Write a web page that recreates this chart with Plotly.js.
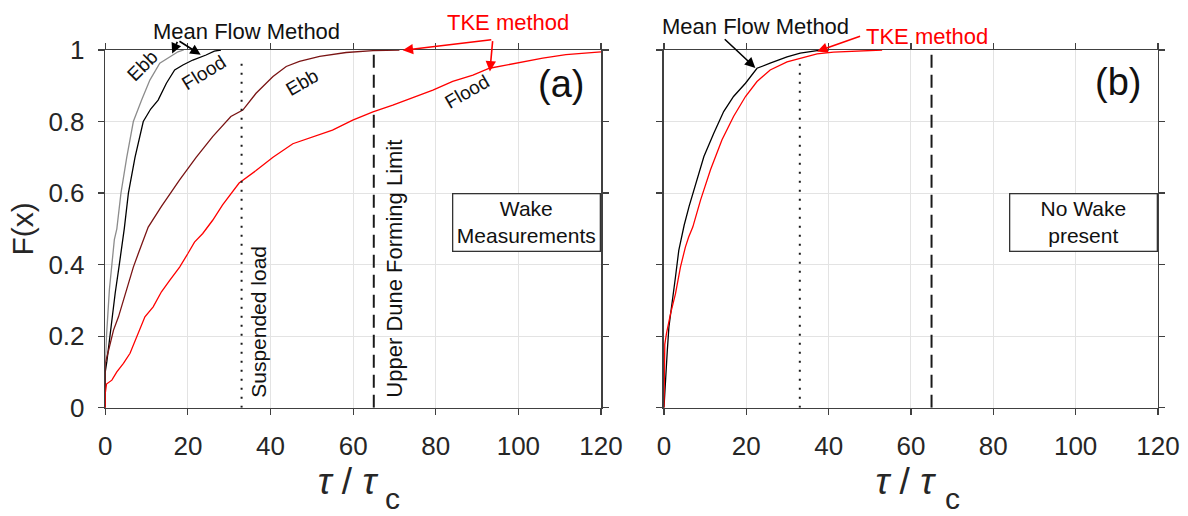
<!DOCTYPE html>
<html>
<head>
<meta charset="utf-8">
<script src="https://cdn.plot.ly/plotly-3.0.1.min.js"></script>
<style>
html,body{margin:0;padding:0;background:#fff;}
#chart{width:1188px;height:516px;}
</style>
</head>
<body>
<div id="chart"></div>
<script>
// ---------- Data ----------
// Panel (a): Wake measurements
const aMeanEbbX   = [0, 0, 0.3, 0.6, 1.0, 1.6, 2.2, 2.8, 3.8, 5.2, 6.8, 8.8, 10.8, 13.2, 15.6, 17.6, 19];
const aMeanEbbY   = [0, 0.12, 0.2, 0.26, 0.33, 0.40, 0.47, 0.50, 0.60, 0.70, 0.80, 0.86, 0.916, 0.963, 0.98, 0.995, 1.0];

const aMeanFloodX = [0, 0, 0.4, 1.0, 1.6, 2.4, 3.4, 4.0, 4.6, 5.6, 7.2, 9.2, 11, 12.8, 14.8, 16.8, 18.8, 21.2, 24.4, 26.4, 28];
const aMeanFloodY = [0, 0.10, 0.13, 0.19, 0.245, 0.32, 0.40, 0.45, 0.50, 0.60, 0.70, 0.80, 0.835, 0.86, 0.907, 0.944, 0.958, 0.972, 0.986, 0.997, 1.0];

const aTkeEbbX    = [0, 0, 0.8, 2, 3.2, 4.4, 5.6, 6.8, 8, 9.2, 10.4, 13.6, 18, 22, 26, 30.4, 33.3, 36.5, 40.6, 43.8, 47, 51.9, 58.3, 64.8, 71.2];
const aTkeEbbY    = [0, 0.124, 0.16, 0.217, 0.254, 0.30, 0.347, 0.393, 0.431, 0.468, 0.505, 0.563, 0.637, 0.70, 0.758, 0.814, 0.832, 0.879, 0.926, 0.954, 0.968, 0.982, 0.993, 0.998, 1.0];

const aTkeFloodX  = [0, 0, 0.3, 1.6, 2.8, 4.4, 6, 7.6, 8.8, 9.6, 11.6, 13.6, 15.6, 18, 20, 21.6, 23.6, 26, 28.4, 32.4, 36.5, 40.6, 45.4, 50.2, 55, 59.9, 64.8, 69.6, 75.2, 79.3, 84.1, 89, 93, 99.4, 105.9, 111.5, 119.6, 120];
const aTkeFloodY  = [0, 0.04, 0.066, 0.077, 0.10, 0.124, 0.152, 0.198, 0.235, 0.254, 0.282, 0.324, 0.356, 0.393, 0.431, 0.463, 0.487, 0.524, 0.567, 0.628, 0.663, 0.70, 0.738, 0.757, 0.776, 0.804, 0.827, 0.846, 0.87, 0.888, 0.912, 0.93, 0.949, 0.963, 0.977, 0.987, 0.994, 0.995];

// Panel (b): No wake present
const bMeanX = [0, 0.4, 0.8, 1.2, 2, 2.8, 3.6, 4.4, 4.9, 6.1, 7.7, 9.7, 12.1, 14.5, 16.9, 19.8, 22.6, 23.4, 25.8, 29.9, 33.1, 37.2, 40];
const bMeanY = [0, 0.102, 0.158, 0.226, 0.291, 0.366, 0.44, 0.486, 0.51, 0.563, 0.628, 0.702, 0.767, 0.828, 0.87, 0.907, 0.949, 0.953, 0.963, 0.981, 0.991, 0.998, 1.0];

const bTkeX  = [0, 0.1, 0.2, 0.6, 1.6, 2.8, 4, 5.2, 6, 7, 8.9, 11.3, 14.1, 16.9, 19.8, 22.6, 25.8, 29.9, 33.1, 37.2, 41.2, 46, 53];
const bTkeY  = [0, 0.12, 0.177, 0.207, 0.263, 0.319, 0.393, 0.449, 0.477, 0.505, 0.581, 0.665, 0.749, 0.814, 0.87, 0.912, 0.944, 0.967, 0.977, 0.989, 0.994, 0.997, 1.0];

// Reference thresholds (tau/tau_c)
const suspendedLoad = 33;
const upperDuneLimit = 65;

// Axis ticks
const xTicks = [0, 20, 40, 60, 80, 100, 120];
const yTicks = [0, 0.2, 0.4, 0.6, 0.8, 1];
const yTickText = ['0', '0.2', '0.4', '0.6', '0.8', '1'];

// ---------- Styling ----------
const FONT = 'Arial, "Liberation Sans", Helvetica, sans-serif';
const GRAY = '#8c8c8c', BLACK = '#000000', DARKRED = '#7a1414', RED = '#ff0000';

function line(x, y, color, xa, ya, w) {
  return {x: x, y: y, type: 'scatter', mode: 'lines', xaxis: xa, yaxis: ya,
          line: {color: color, width: w || 1.3}, hoverinfo: 'skip', showlegend: false};
}

const data = [
  line(aMeanEbbX, aMeanEbbY, GRAY, 'x', 'y'),
  line(aMeanFloodX, aMeanFloodY, BLACK, 'x', 'y'),
  line(aTkeEbbX, aTkeEbbY, DARKRED, 'x', 'y'),
  line(aTkeFloodX, aTkeFloodY, RED, 'x', 'y'),
  line(bMeanX, bMeanY, BLACK, 'x2', 'y2'),
  line(bTkeX, bTkeY, RED, 'x2', 'y2')
];

function xAxis(domain, anchor) {
  return {
    domain: domain, anchor: anchor, range: [0, 120], autorange: false,
    tickmode: 'array', tickvals: xTicks, ticktext: xTicks.map(String),
    ticks: 'outside', ticklen: 6, tickwidth: 1.2, tickcolor: '#404040',
    ticklabelstandoff: 9,
    tickfont: {family: FONT, size: 26, color: '#262626'},
    showline: true, linecolor: '#404040', linewidth: 1.5, mirror: 'ticks',
    showgrid: true, gridcolor: '#e3e3e3', gridwidth: 1, zeroline: false,
    title: {text: '<i>τ</i> / <i>τ</i>&#8202;&#8202;&#8202;&#8202;',
            font: {family: FONT, size: 37, color: '#262626'}, standoff: 6}
  };
}
function yAxis(anchor, showLabels) {
  const ax = {
    domain: [0.2099, 0.9031], anchor: anchor, range: [0, 1], autorange: false,
    tickmode: 'array', tickvals: yTicks, ticktext: yTickText, showticklabels: showLabels,
    ticks: 'outside', ticklen: 6, tickwidth: 1.2, tickcolor: '#404040',
    ticklabelstandoff: 8,
    tickfont: {family: FONT, size: 26, color: '#262626'},
    showline: true, linecolor: '#404040', linewidth: 1.5, mirror: 'ticks',
    showgrid: true, gridcolor: '#e3e3e3', gridwidth: 1, zeroline: false
  };
  if (showLabels) ax.title = {text: 'F(x)', font: {family: FONT, size: 30, color: '#262626'}, standoff: 6};
  return ax;
}

function vline(xv, xref, yref, top, dash, w) {
  return {type: 'line', xref: xref, yref: yref, x0: xv, x1: xv, y0: 0, y1: top,
          line: {color: '#1a1a1a', width: w, dash: dash}, layer: 'above'};
}

const shapes = [
  vline(suspendedLoad, 'x', 'y', 0.98, '2px,7px', 2),
  vline(upperDuneLimit, 'x', 'y', 1, '13px,7px', 2),
  vline(suspendedLoad, 'x2', 'y2', 0.976, '2px,7px', 2),
  vline(upperDuneLimit, 'x2', 'y2', 1, '13px,7px', 2)
];

// texts use the y-domain reference (equal to data value, since range is 0..1) so they may sit outside the frame
function txt(text, x, y, xref, yref, size, color, angle) {
  return {text: text, x: x, y: y, xref: xref, yref: yref + ' domain', showarrow: false,
    font: {family: FONT, size: size, color: color}, textangle: angle || 0,
    xanchor: 'center', yanchor: 'middle'};
}
function arrow(x, y, ax, ay, xref, yref, color) {
  return {text: '', x: x, y: y, ax: ax, ay: ay, xref: xref, yref: yref,
    axref: xref, ayref: yref, showarrow: true, arrowhead: 2, arrowsize: 1.3,
    arrowwidth: 1.6, arrowcolor: color, standoff: 0, startstandoff: 0};
}
function box(text, xref, yref) {
  return {text: text, x: 120, y: 0.6, xref: xref, yref: yref, xanchor: 'right', yanchor: 'top',
    showarrow: false, width: 146, height: 56, align: 'center', valign: 'middle',
    bordercolor: '#333333', borderwidth: 1.3, borderpad: 0, bgcolor: '#ffffff',
    font: {family: FONT, size: 21, color: '#111111'}};
}

const annotations = [
  // Panel (a)
  txt('Mean Flow Method', 34.3, 1.053, 'x', 'y', 22, '#111'),
  arrow(16.2, 0.99, 17.6, 1.027, 'x', 'y', BLACK),
  arrow(23.1, 0.987, 17.6, 1.027, 'x', 'y', BLACK),
  txt('TKE method', 97.6, 1.076, 'x', 'y', 22, RED),
  arrow(72, 0.999, 93.8, 1.029, 'x', 'y', RED),
  arrow(93.1, 0.94, 93.8, 1.029, 'x', 'y', RED),
  txt('Ebb', 9.0, 0.958, 'x', 'y', 19, '#111', -45),
  txt('Flood', 23.9, 0.937, 'x', 'y', 19, '#111', -32),
  txt('Ebb', 47.6, 0.91, 'x', 'y', 19, '#111', -30),
  txt('Flood', 87.6, 0.885, 'x', 'y', 19, '#111', -30),
  txt('(a)', 110.2, 0.906, 'x', 'y', 38, '#111'),
  txt('Suspended load', 37.2, 0.24, 'x', 'y', 21, '#111', -90),
  txt('Upper Dune Forming Limit', 70, 0.39, 'x', 'y', 22, '#111', -90),
  box('Wake<br>Measurements', 'x', 'y'),
  txt('c', 69.6, -0.255, 'x', 'y', 30, '#262626'),
  // Panel (b)
  txt('Mean Flow Method', 22.2, 1.066, 'x2', 'y2', 22, '#111'),
  arrow(22.2, 0.95, 14.4, 1.034, 'x2', 'y2', BLACK),
  txt('TKE method', 64, 1.038, 'x2', 'y2', 22, RED),
  arrow(37.2, 0.996, 48, 1.04, 'x2', 'y2', RED),
  txt('(b)', 110.4, 0.91, 'x2', 'y2', 38, '#111'),
  box('No Wake<br>present', 'x2', 'y2'),
  txt('c', 70.1, -0.255, 'x2', 'y2', 30, '#262626')
];

const layout = {
  width: 1188, height: 516,
  margin: {l: 0, r: 0, t: 0, b: 0},
  paper_bgcolor: '#ffffff', plot_bgcolor: '#ffffff',
  showlegend: false,
  xaxis: xAxis([0.0886, 0.5059], 'y'),
  yaxis: yAxis('x', true),
  xaxis2: xAxis([0.5589, 0.9747], 'y2'),
  yaxis2: yAxis('x2', false),
  shapes: shapes,
  annotations: annotations,
  font: {family: FONT}
};

Plotly.newPlot('chart', data, layout, {displayModeBar: false, staticPlot: true});
</script>
</body>
</html>
